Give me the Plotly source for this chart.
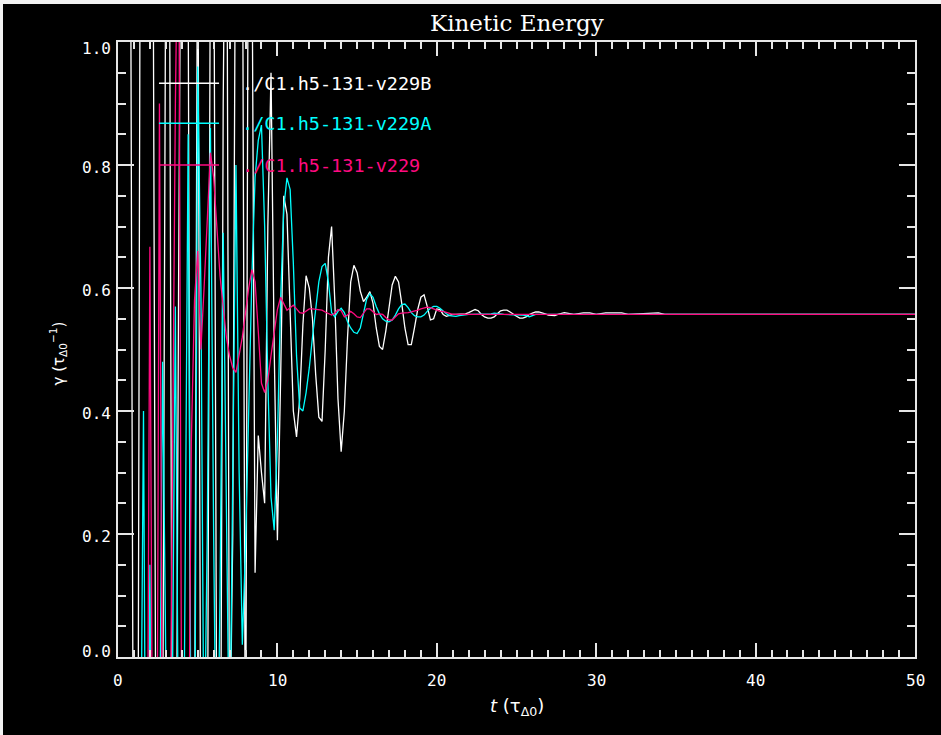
import numpy as np
import plotly.graph_objects as go

# Common sampling grid of the growth-rate histories (t in tau_A0)
T = np.round(np.arange(0.0, 28.001, 0.2), 1)

# v229B (white)
GAMMA_B = [
    1.4, 1.5, 1.6, 1.3, 1.1, -0.6, -0.8, 1.3, 1.6, 1.4,
    1.5, 1.2, -0.4, -0.7, -0.2, 1.2, 1.4, -0.2, -0.6, 0.6,
    1.5, 1.3, 1.1, -0.5, -0.2, 1.3, -0.3, -0.7, -0.3, 1.2,
    1.3, -0.2, -0.5, 0.9, 1.5, -0.2, 0.2, 1.4, 1.5, 1.3,
    -0.3, 1.5, 1.2, 0.137, 0.36, 0.30, 0.25, 0.70, 0.95, 0.50,
    0.19, 0.45, 0.75, 0.72, 0.55, 0.40, 0.358, 0.42, 0.54, 0.62,
    0.60, 0.55, 0.46, 0.39, 0.383, 0.50, 0.65, 0.70, 0.58, 0.42,
    0.334, 0.40, 0.52, 0.61, 0.637, 0.625, 0.595, 0.578, 0.585, 0.594,
    0.575, 0.535, 0.505, 0.50, 0.53, 0.57, 0.605, 0.619, 0.61, 0.575,
    0.535, 0.508, 0.508, 0.535, 0.565, 0.585, 0.589, 0.57, 0.548, 0.55,
    0.566, 0.565, 0.557, 0.554, 0.556, 0.557, 0.557, 0.557, 0.557, 0.558,
    0.560, 0.562, 0.565, 0.563, 0.557, 0.553, 0.551, 0.551, 0.553, 0.558,
    0.563, 0.564, 0.564, 0.561, 0.557, 0.554, 0.551, 0.551, 0.553, 0.557,
    0.559, 0.561, 0.561, 0.560, 0.558, 0.556, 0.555, 0.555, 0.557, 0.559,
    0.560,
]
T_TAIL_B = [28.6, 29.2, 29.6, 30.0, 30.6, 31.0, 31.6, 32.0, 33.5, 33.9, 34.3, 50.0]
GAMMA_TAIL_B = [0.557, 0.5595, 0.5595, 0.557, 0.5595, 0.5595, 0.5595, 0.557,
                0.5595, 0.5595, 0.557, 0.557]

# v229A (cyan)
GAMMA_A = [
    -0.4, -0.6, -0.8, -0.7, -0.9, -0.6, -0.5, -0.3, 0.40, -0.6,
    0.15, -0.7, -0.5, -0.2, 0.48, -0.3, -0.5, -0.1, 0.57, -0.2,
    -0.6, 0.1, 0.85, -0.3, -0.3, 0.96, 0.6, -0.2, 0.2, 0.86,
    0.2, -0.3, 0.1, 0.69, 0.2, -0.2, 0.3, 0.80, 0.30, 0.02,
    0.18, 0.40, 0.62, 0.78, 0.84, 0.865, 0.70, 0.45, 0.26, 0.206,
    0.35, 0.58, 0.73, 0.779, 0.76, 0.64, 0.49, 0.405, 0.40, 0.43,
    0.47, 0.52, 0.57, 0.61, 0.635, 0.640, 0.61, 0.56, 0.553, 0.562,
    0.567, 0.56, 0.545, 0.535, 0.528, 0.526, 0.535, 0.56, 0.582, 0.591,
    0.585, 0.57, 0.558, 0.55, 0.546, 0.545, 0.548, 0.556, 0.566, 0.573,
    0.574, 0.568, 0.56, 0.555, 0.553, 0.553, 0.556, 0.562, 0.567, 0.570,
    0.570, 0.567, 0.562, 0.558, 0.555, 0.554, 0.554, 0.555, 0.556, 0.557,
    0.557, 0.557, 0.557, 0.557, 0.557, 0.557, 0.557, 0.558, 0.559, 0.559,
    0.558, 0.557, 0.557, 0.557, 0.557, 0.557, 0.557, 0.556, 0.555, 0.553,
    0.555, 0.557, 0.557, 0.557, 0.557, 0.557, 0.557, 0.557, 0.557, 0.557,
    0.557,
]
T_TAIL_A = [50.0]
GAMMA_TAIL_A = [0.557]

# v229 (magenta)
GAMMA_0 = [
    -0.5, -0.7, -0.6, -0.8, -0.7, -0.9, -0.6, -0.7, -0.5, -0.5,
    0.667, -0.4, -0.6, 0.9, -0.3, -0.6, -0.4, 0.3, 0.9, 1.3,
    -0.2, -0.6, -0.3, 0.35, 0.58, 0.66, 0.50, 0.60, 0.72, 0.82,
    0.78, 0.70, 0.62, 0.57, 0.52, 0.49, 0.47, 0.463, 0.49, 0.52,
    0.56, 0.60, 0.63, 0.61, 0.53, 0.445, 0.43, 0.45, 0.49, 0.53,
    0.565, 0.585, 0.575, 0.564, 0.568, 0.572, 0.566, 0.560, 0.559, 0.562,
    0.566, 0.566, 0.565, 0.564, 0.564, 0.561, 0.558, 0.556, 0.559, 0.565,
    0.563, 0.553, 0.556, 0.562, 0.558, 0.553, 0.552, 0.560, 0.566, 0.566,
    0.561, 0.557, 0.558, 0.557, 0.552, 0.548, 0.548, 0.553, 0.558, 0.559,
    0.559, 0.560, 0.561, 0.562, 0.564, 0.566, 0.568, 0.569, 0.568, 0.566,
    0.564, 0.562, 0.562, 0.560, 0.558, 0.557, 0.557, 0.557, 0.557, 0.557,
    0.557, 0.557, 0.557, 0.557, 0.557, 0.557, 0.557, 0.557, 0.557, 0.557,
    0.557, 0.557, 0.557, 0.557, 0.557, 0.557, 0.557, 0.557, 0.557, 0.557,
    0.557, 0.557, 0.557, 0.557, 0.557, 0.557, 0.557, 0.557, 0.557, 0.557,
    0.557,
]
T_TAIL_0 = [50.0]
GAMMA_TAIL_0 = [0.557]

RUN_NAMES = ["./C1.h5-131-v229B", "./C1.h5-131-v229A", "./C1.h5-131-v229"]
RUN_COLORS = ["#ffffff", "#00ffff", "#ff0a80"]
LEGEND_Y = [0.933, 0.868, 0.800]

X_TICKS = [0, 10, 20, 30, 40, 50]
Y_TICKS = [0.0, 0.2, 0.4, 0.6, 0.8, 1.0]
Y_TICK_TEXT = ["0.0", "0.2", "0.4", "0.6", "0.8", "1.0"]
Y_LABEL_SHIFT = [6, -2, -2, -2, -2, -6]

series = [
    (list(T) + T_TAIL_B, GAMMA_B + GAMMA_TAIL_B),
    (list(T) + T_TAIL_A, GAMMA_A + GAMMA_TAIL_A),
    (list(T) + T_TAIL_0, GAMMA_0 + GAMMA_TAIL_0),
]

fig = go.Figure()
for (tx, gy), name, col in zip(series, RUN_NAMES, RUN_COLORS):
    fig.add_trace(go.Scatter(x=tx, y=gy, mode="lines", name=name,
                             line=dict(color=col, width=1.3), showlegend=False))

FRAME = "#e6e6e6"
MONO = "DejaVu Sans Mono"

fig.update_layout(
    width=941, height=735,
    margin=dict(l=118, r=26, t=42, b=78),
    paper_bgcolor="black", plot_bgcolor="black",
    xaxis=dict(range=[0, 50], showgrid=False, zeroline=False,
               showline=True, linecolor=FRAME, linewidth=1.5, mirror="allticks",
               ticks="inside", tickvals=X_TICKS, ticklen=14, tickwidth=1.5,
               tickcolor=FRAME, showticklabels=False,
               minor=dict(dtick=1, ticks="inside", ticklen=7, tickwidth=1.5,
                          tickcolor=FRAME, showgrid=False)),
    yaxis=dict(range=[0, 1], showgrid=False, zeroline=False,
               showline=True, linecolor=FRAME, linewidth=1.5, mirror="allticks",
               ticks="inside", tickvals=Y_TICKS, ticklen=16, tickwidth=1.5,
               tickcolor=FRAME, showticklabels=False,
               minor=dict(dtick=0.05, ticks="inside", ticklen=8, tickwidth=1.5,
                          tickcolor=FRAME, showgrid=False)),
)

ann = []
# tick labels
for v in X_TICKS:
    ann.append(dict(x=v, y=0, xref="x", yref="paper", text=str(v), showarrow=False,
                    xanchor="center", yanchor="middle", yshift=-23,
                    font=dict(family=MONO, size=16, color="white")))
for v, txt, sh in zip(Y_TICKS, Y_TICK_TEXT, Y_LABEL_SHIFT):
    ann.append(dict(x=0, y=v, xref="paper", yref="y", text=txt, showarrow=False,
                    xanchor="right", yanchor="middle", xshift=-5, yshift=sh,
                    font=dict(family=MONO, size=16, color="white")))
# title and axis titles
ann.append(dict(x=0.5, y=(657 - 23) / 615, xref="paper", yref="paper",
                text="Kinetic Energy", showarrow=False, xanchor="center", yanchor="middle",
                font=dict(family="DejaVu Serif", size=23, color="white")))
ann.append(dict(x=0.5, y=(657 - 707) / 615, xref="paper", yref="paper",
                text="<i>t</i> (τ<sub>Δ0</sub>)", showarrow=False,
                xanchor="center", yanchor="middle",
                font=dict(family="DejaVu Sans", size=18, color="white")))
ann.append(dict(x=(58 - 118) / 797, y=0.5, xref="paper", yref="paper",
                text="γ (τ<sub>Δ0</sub><sup>−1</sup>)", showarrow=False, textangle=-90,
                xanchor="center", yanchor="middle", yshift=-4,
                font=dict(family="DejaVu Sans", size=15, color="white")))
# legend labels
for name, col, ly in zip(RUN_NAMES, RUN_COLORS, LEGEND_Y):
    ann.append(dict(x=7.65, y=ly, xref="x", yref="y", text=name, showarrow=False,
                    xanchor="left", yanchor="middle",
                    font=dict(family=MONO, size=18.5, color=col)))
fig.update_layout(annotations=ann)

shapes = []
# legend line samples
for col, ly in zip(RUN_COLORS, LEGEND_Y):
    shapes.append(dict(type="line", xref="x", yref="y", x0=2.57, x1=6.34, y0=ly, y1=ly,
                       line=dict(color=col, width=1.5), layer="above"))
# light border strips along the top and left edges of the page
shapes.append(dict(type="rect", xref="paper", yref="paper",
                   x0=(0 - 118) / 797, x1=(941 - 118) / 797,
                   y0=(657 - 4) / 615, y1=(657 - 0) / 615,
                   fillcolor="#f2f2f2", line=dict(width=0), layer="above"))
shapes.append(dict(type="rect", xref="paper", yref="paper",
                   x0=(0 - 118) / 797, x1=(3 - 118) / 797,
                   y0=(657 - 735) / 615, y1=(657 - 0) / 615,
                   fillcolor="#f2f2f2", line=dict(width=0), layer="above"))
fig.update_layout(shapes=shapes)

fig.write_html("out.html")
